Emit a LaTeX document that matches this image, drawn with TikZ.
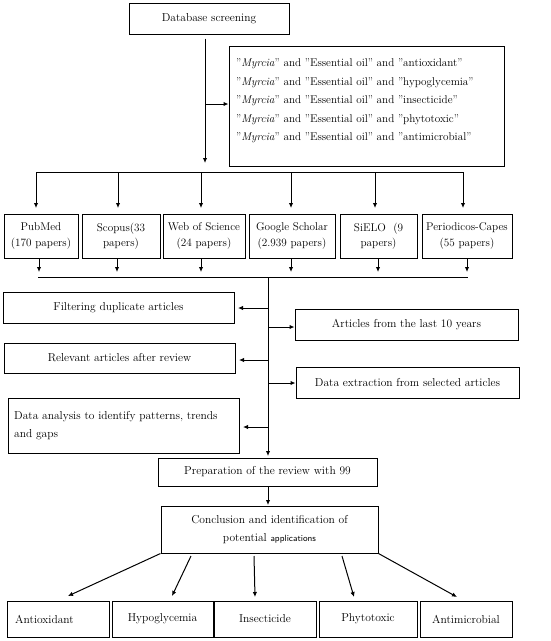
\documentclass[tikz,border=0pt]{standalone}
\usetikzlibrary{arrows.meta}
\begin{document}
\begin{tikzpicture}[x=1pt,y=-1pt,
  box/.style={draw,line width=1pt,inner sep=0pt,align=center,font=\fontsize{11.5}{15.5}\selectfont},
  lbl/.style={inner sep=0pt,align=left,font=\fontsize{11.2}{18.5}\selectfont},
  ln/.style={line width=1pt},
  arr/.style={line width=1pt,-{Latex[length=5pt,width=4.5pt]}}]
\useasboundingbox (0,0) rectangle (550,641);
% top
\node[box,minimum width=160pt,minimum height=31pt] (db) at (209,18.5) {Database screening};
\node[draw,line width=1pt,minimum width=275pt,minimum height=120pt,inner sep=0pt] (query) at (366.5,106) {};
\node[lbl,anchor=north west] (qtxt) at (236,59) {"\textit{Myrcia}" and "Essential oil" and "antioxidant"\\
"\textit{Myrcia}" and "Essential oil" and "hypoglycemia"\\
"\textit{Myrcia}" and "Essential oil" and "insecticide"\\
"\textit{Myrcia}" and "Essential oil" and "phytotoxic"\\
"\textit{Myrcia}" and "Essential oil" and "antimicrobial''};
\coordinate (dbend) at (205,163);
\draw[arr] ([yshift=-4pt]db.south -| dbend) -- (dbend);
\coordinate (qbr) at (205,104);
\draw[arr] (qbr) -- (qbr -| query.west);
% databases
\node[box,minimum width=74pt,minimum height=44pt,font=\fontsize{11.2}{15.5}\selectfont] (pub) at (41,236) {PubMed\\(170 papers)};
\node[box,minimum width=78pt,minimum height=44pt,font=\fontsize{11.2}{15.5}\selectfont] (scop) at (121,236) {Scopus(33\\papers)};
\node[box,minimum width=82pt,minimum height=44pt,font=\fontsize{11.2}{15.5}\selectfont] (wos) at (204,236) {Web of Science\\(24 papers)};
\node[box,minimum width=86pt,minimum height=44pt,font=\fontsize{11.2}{15.5}\selectfont] (gs) at (292,236) {Google Scholar\\(2.939 papers)};
\node[box,minimum width=77pt,minimum height=44pt,font=\fontsize{11.2}{15.5}\selectfont] (sie) at (378.5,236) {SiELO\ \ (9\\papers)};
\node[box,minimum width=90pt,minimum height=44pt,font=\fontsize{11.2}{15.5}\selectfont] (per) at (467,236) {Periodicos-Capes\\(55 papers)};
\coordinate (h1a) at (36,172);
\coordinate (h1b) at (463,172);
\draw[ln] (h1a) -- (h1b);
\foreach \x in {36,118,201,291,375,463}{
  \draw[arr] (\x,172) -- (\x,208);
}
\coordinate (h2a) at (38,277);
\coordinate (h2b) at (468,277);
\foreach \x in {39,117,201,291,378,467}{
  \draw[arr] (\x,258) -- (\x,272);
}
\draw[ln] (h2a) -- (h2b);
% side steps
\node[box,minimum width=231pt,minimum height=31pt] (filt) at (118.5,307.5) {Filtering duplicate articles};
\node[box,minimum width=223pt,minimum height=31pt] (last) at (406.5,324.5) {Articles from the last 10 years};
\node[box,minimum width=231pt,minimum height=30pt] (rel) at (119.5,358) {Relevant articles after review};
\node[box,minimum width=223pt,minimum height=31pt] (extr) at (407.5,382.5) {Data extraction from selected articles};
\node[draw,line width=1pt,minimum width=231pt,minimum height=55pt,inner sep=0pt] (anal) at (123.5,425.5) {};
\node[inner sep=0pt,align=left,font=\fontsize{11.5}{18.5}\selectfont,anchor=west] (atxt) at (14,425.5) {Data analysis to identify patterns, trends\\and gaps};
\node[box,minimum width=219pt,minimum height=28pt] (prep) at (267.5,472) {\raisebox{-2pt}{Preparation of the review with 99}};
\node[box,minimum width=217pt,minimum height=47pt,font=\fontsize{11.5}{18.5}\selectfont] (concl) at (269.5,529.5) {\raisebox{-2pt}{\parbox{200pt}{\centering Conclusion and identification of\\potential {\sffamily\fontsize{9}{18}\selectfont applications}}}};
\coordinate (trtop) at (268,277);
\draw[arr] (trtop) -- (268,456);
\draw[arr] (268,308) -- (238,308);
\draw[arr] (268,327) -- (last.west |- 268,327);
\draw[arr] (268,360) -- (239,360);
\draw[arr] (268,383) -- (extr.west |- 268,383);
\draw[arr] (268,427) -- (243,427);
\draw[arr] (prep.south -| 268,0) -- (268,505);
% bottom
\node[box,minimum width=102pt,minimum height=36pt] (anti) at (58,619) {\hspace*{-27pt}Antioxidant};
\node[box,minimum width=101pt,minimum height=36pt] (hypo) at (162.5,619) {Hypoglycemia};
\node[box,minimum width=102pt,minimum height=36pt] (ins) at (265,619) {Insecticide};
\node[box,minimum width=98pt,minimum height=36pt] (phy) at (368,619) {Phytotoxic};
\node[box,minimum width=92pt,minimum height=36pt] (antim) at (466,619) {Antimicrobial};
\coordinate (e1) at (68,596);
\coordinate (e2) at (172,596);
\coordinate (e3) at (255,597);
\coordinate (e4) at (354,597);
\coordinate (e5) at (457,597);
\draw[arr] (concl.south west) -- (e1);
\draw[arr] (191,556) -- (e2);
\draw[arr] (254,556) -- (e3);
\draw[arr] (342,556) -- (e4);
\draw[arr] (concl.south east) -- (e5);
\end{tikzpicture}
\end{document}
